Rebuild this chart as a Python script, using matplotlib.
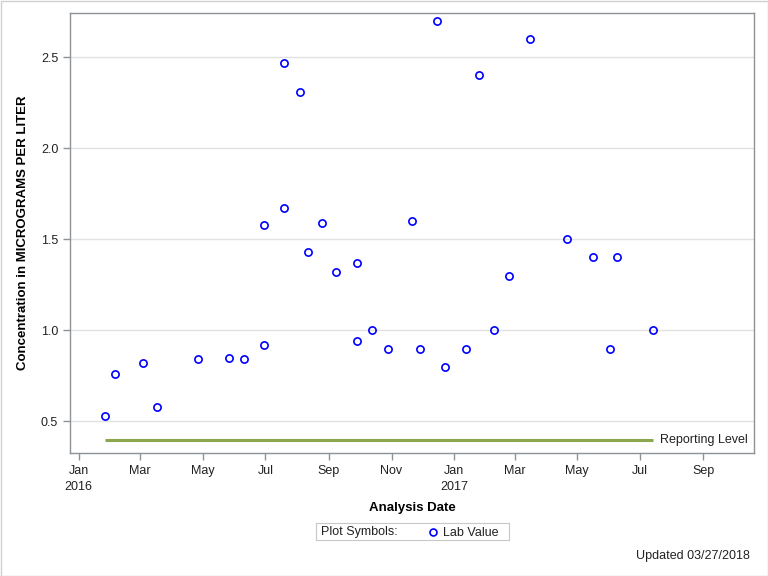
import matplotlib
matplotlib.use("Agg")
import matplotlib.pyplot as plt
import matplotlib.dates as mdates
from matplotlib.patches import Rectangle
from datetime import datetime

plt.rcParams['font.family'] = ['Liberation Sans', 'DejaVu Sans']

# sample dates and lab values (micrograms per liter)
sample_dates = ["2016-01-27", "2016-02-05", "2016-03-04", "2016-03-17", "2016-04-26",
                "2016-05-27", "2016-06-10", "2016-06-30", "2016-06-30", "2016-07-19",
                "2016-07-19", "2016-08-04", "2016-08-12", "2016-08-25", "2016-09-08",
                "2016-09-28", "2016-09-28", "2016-10-13", "2016-10-29", "2016-11-21",
                "2016-11-29", "2016-12-15", "2016-12-23", "2017-01-13", "2017-01-25",
                "2017-02-09", "2017-02-24", "2017-03-16", "2017-04-21", "2017-05-16",
                "2017-06-02", "2017-06-09", "2017-07-14"]
lab_values = [0.53, 0.76, 0.82, 0.58, 0.84,
              0.85, 0.84, 1.58, 0.92, 2.47,
              1.67, 2.31, 1.43, 1.59, 1.32,
              0.94, 1.37, 1.00, 0.90, 1.60,
              0.90, 2.70, 0.80, 0.90, 2.40,
              1.00, 1.30, 2.60, 1.50, 1.40,
              0.90, 1.40, 1.00]
reporting_level = 0.4
y_ticks = [0.5, 1.0, 1.5, 2.0, 2.5]


def to_dates(lst):
    return [datetime.strptime(s, "%Y-%m-%d") for s in lst]


def month_label(x, pos=None):
    d = mdates.num2date(x)
    if d.month == 1:
        return d.strftime("%b\n%Y")
    return d.strftime("%b")


dates = to_dates(sample_dates)

fig = plt.figure(figsize=(7.68, 5.76), dpi=100)
ax = fig.add_axes([70 / 768, 1 - 452.7 / 576, 684 / 768, 439.7 / 576])

axis_gray = '#8c9296'
text_col = '#222222'
ax.set_ylim(0.328, 2.742)
ax.set_xlim(datetime(2015, 12, 23, 12), datetime(2017, 10, 20, 10))

for v in y_ticks:
    ax.axhline(v, color='#e2e2e2', linewidth=1, zorder=0)

# reporting level line from first to last sample
ax.plot([dates[0], dates[-1]], [reporting_level, reporting_level],
        color='#8aa64f', linewidth=2.2, solid_capstyle='butt', zorder=2)
ax.text(mdates.date2num(dates[-1]) + 7, reporting_level, "Reporting Level",
        fontsize=9, va='center', ha='left', color=text_col)

ax.plot(dates, lab_values, linestyle='none', marker='o', markersize=5.2,
        markerfacecolor='none', markeredgecolor='blue', markeredgewidth=1.2, zorder=3)

ax.set_yticks(y_ticks)
ax.set_yticklabels(["0.5", "1.0", "1.5", "2.0", "2.5"])
ax.xaxis.set_major_locator(mdates.MonthLocator(bymonth=[1, 3, 5, 7, 9, 11]))
ax.xaxis.set_major_formatter(plt.FuncFormatter(month_label))
ax.tick_params(axis='both', direction='out', length=5, width=1, color=axis_gray,
               labelsize=9, labelcolor=text_col)
for lbl in ax.get_xticklabels():
    lbl.set_linespacing(1.45)
for sp in ax.spines.values():
    sp.set_color(axis_gray)
    sp.set_linewidth(1)

ax.set_xlabel("Analysis Date", fontsize=9.5, fontweight='bold', labelpad=7)
ax.set_ylabel("Concentration in MICROGRAMS PER LITER", fontsize=9.5, fontweight='bold')
ax.yaxis.set_label_coords((29 - 70) / 684, 0.5)

# legend box
leg_ax = fig.add_axes([316 / 768, 1 - 540 / 576, 193 / 768, 17 / 576])
leg_ax.set_xlim(0, 193)
leg_ax.set_ylim(0, 17)
leg_ax.set_xticks([])
leg_ax.set_yticks([])
for sp in leg_ax.spines.values():
    sp.set_color('#c8c8c8')
leg_ax.text(5, 4.5, "Plot Symbols:", fontsize=9, va='baseline', ha='left', color=text_col)
leg_ax.plot([117], [8.5], marker='o', markersize=5, markerfacecolor='none',
            markeredgecolor='blue', markeredgewidth=1.2, linestyle='none')
leg_ax.text(127, 4.5, "Lab Value", fontsize=9, va='baseline', ha='left', color=text_col)

fig.text(750 / 768, 1 - 556 / 576, "Updated 03/27/2018", fontsize=9, ha='right', va='center',
         color=text_col)

fig.patches.append(Rectangle((0.5 / 768, 0.5 / 576), 767 / 768, 575 / 576, transform=fig.transFigure,
                             fill=False, edgecolor='#d0d0d0', linewidth=1))

fig.savefig("out.png", dpi=100)
